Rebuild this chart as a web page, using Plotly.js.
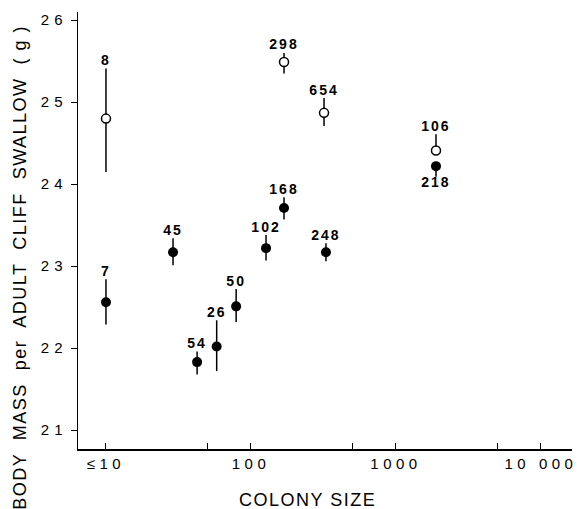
<!DOCTYPE html>
<html><head><meta charset="utf-8">
<script src="https://cdn.plot.ly/plotly-3.0.1.min.js"></script>
<style>
body{margin:0;background:#fff}#c{width:588px;height:509px}
.xtick text{letter-spacing:4.5px}
.ytick text{letter-spacing:5px}
.textpoint text{letter-spacing:2px}
.annotation-text{letter-spacing:1.5px}
</style>
</head><body><div id="c"></div>
<script>
// Open circles
const openX = [10, 169, 319, 1888];
const openY = [24.80, 25.49, 24.87, 24.41];
const openHi = [25.41, 25.60, 25.05, 24.61];
const openLo = [24.15, 25.35, 24.71, 24.36];
const openN = ["8", "298", "654", "106"];
// Filled circles
const fillX = [10, 29, 42.5, 58, 79, 127, 169, 329, 1888];
const fillY = [22.56, 23.17, 21.83, 22.02, 22.51, 23.22, 23.71, 23.17, 24.22];
const fillHi = [22.84, 23.34, 21.96, 22.34, 22.72, 23.38, 23.84, 23.28, 24.27];
const fillLo = [22.29, 23.01, 21.68, 21.72, 22.32, 23.07, 23.57, 23.06, 24.09];
const fillN = ["7", "45", "54", "26", "50", "102", "168", "248", "218"];
const labelBelow = [false, false, false, false, false, false, false, false, true];

const xTickVals = [10, 50, 100, 500, 1000, 5000, 10000];
const xTickText = ["≤10", "", "100", "", "1000", "", "10 000"];
const yTickVals = [21, 22, 23, 24, 25, 26];
const yTickText = ["21", "22", "23", "24", "25", "26"];
const xTitle = "COLONY SIZE";
const yTitle = "BODY  MASS  per  ADULT  CLIFF  SWALLOW  ( g )";

const F = "Liberation Sans, Arial, sans-serif";
function errs(y, hi, lo) {
  return {
    type: 'data', symmetric: false,
    array: y.map((v, i) => hi[i] - v),
    arrayminus: y.map((v, i) => v - lo[i]),
    color: '#000', thickness: 1.5, width: 0
  };
}
const lblFont = { family: F, size: 14, color: '#000', weight: 'bold' };
const traces = [
  { x: fillX, y: fillY, mode: 'markers', type: 'scatter',
    marker: { symbol: 'circle', size: 10, color: '#000' },
    error_y: errs(fillY, fillHi, fillLo), hoverinfo: 'none' },
  { x: openX, y: openY, mode: 'markers', type: 'scatter',
    marker: { symbol: 'circle', size: 9, color: '#fff', line: { color: '#000', width: 1.5 } },
    error_y: errs(openY, openHi, openLo), hoverinfo: 'none' },
  { x: openX, y: openHi, mode: 'text', type: 'scatter', text: openN,
    textposition: 'top center', textfont: lblFont, hoverinfo: 'none' },
  { x: fillX, y: fillX.map((v, i) => labelBelow[i] ? fillLo[i] : fillHi[i]), mode: 'text', type: 'scatter', text: fillN,
    textposition: fillX.map((v, i) => labelBelow[i] ? 'bottom center' : 'top center'),
    textfont: lblFont, hoverinfo: 'none' }
];
const layout = {
  width: 588, height: 509, showlegend: false,
  paper_bgcolor: '#fff', plot_bgcolor: '#fff',
  margin: { l: 78, r: 16, t: 12, b: 60 },
  font: { family: F, color: '#000' },
  xaxis: {
    type: 'log', range: [0.807, 4.214], showgrid: false, zeroline: false,
    showline: true, linecolor: '#000', linewidth: 1.5,
    ticks: 'inside', ticklen: 6, tickcolor: '#000', tickwidth: 1,
    tickmode: 'array', tickvals: xTickVals, ticktext: xTickText,
    tickfont: { family: F, size: 15 }
  },
  yaxis: {
    range: [20.77, 26.1], showgrid: false, zeroline: false,
    showline: true, linecolor: '#000', linewidth: 1.5,
    ticks: 'outside', ticklen: 6, tickcolor: '#000', tickwidth: 1,
    tickmode: 'array', tickvals: yTickVals, ticktext: yTickText,
    tickfont: { family: F, size: 15 }
  },
  annotations: [
    { text: xTitle, xref: 'paper', yref: 'paper', x: 0.4636, y: -0.1167,
      xanchor: 'center', yanchor: 'middle', showarrow: false,
      font: { family: F, size: 18, color: '#000' } },
    { text: yTitle, xref: 'paper', yref: 'paper', x: -0.119, y: 0.415,
      xanchor: 'center', yanchor: 'middle', showarrow: false, textangle: -90,
      font: { family: F, size: 18, color: '#000' } }
  ]
};
Plotly.newPlot('c', traces, layout, { displayModeBar: false, staticPlot: true });
</script></body></html>
